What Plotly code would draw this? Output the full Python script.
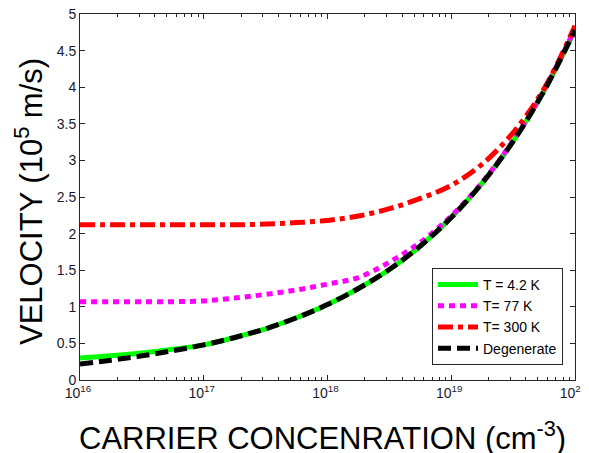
import plotly.graph_objects as go

# carrier concentration (cm^-3), quarter-decade grid
conc = [1e16, 1.778e16, 3.162e16, 5.623e16, 1e17, 1.778e17, 3.162e17, 5.623e17,
        1e18, 1.778e18, 3.162e18, 5.623e18, 1e19, 1.778e19, 3.162e19, 5.623e19, 1e20]

# velocity (10^5 m/s)
v_4k = [0.30, 0.33, 0.37, 0.42, 0.48, 0.58, 0.70, 0.85, 1.03, 1.25, 1.51, 1.83, 2.22, 2.69, 3.26, 3.95, 4.78]
v_77k = [1.07, 1.07, 1.07, 1.07, 1.08, 1.12, 1.17, 1.23, 1.31, 1.40, 1.61, 1.88, 2.24, 2.70, 3.27, 3.96, 4.80]
v_300k = [2.12, 2.12, 2.12, 2.12, 2.12, 2.12, 2.13, 2.15, 2.18, 2.24, 2.34, 2.48, 2.66, 2.95, 3.38, 3.98, 4.84]
v_deg = [0.22, 0.27, 0.33, 0.40, 0.48, 0.58, 0.70, 0.85, 1.03, 1.25, 1.51, 1.83, 2.22, 2.69, 3.26, 3.95, 4.78]

x_tickvals = [1e16, 1e17, 1e18, 1e19, 1e20]
x_ticktext = ["10<sup>16</sup>", "10<sup>17</sup>", "10<sup>18</sup>", "10<sup>19</sup>", "10<sup>20</sup>"]
x_minorvals = [float(m) * 10.0 ** e for e in (16, 17, 18, 19) for m in range(2, 10)]
y_tickvals = [0, 0.5, 1, 1.5, 2, 2.5, 3, 3.5, 4, 4.5, 5]
y_ticktext = ["0", "0.5", "1", "1.5", "2", "2.5", "3", "3.5", "4", "4.5", "5"]

x_title = "CARRIER CONCENRATION (cm<sup>-3</sup>)"
y_title = "VELOCITY (10<sup>5</sup> m/s)"

FONT = "Liberation Sans, Arial"
OFF = 8                      # default page body margin
W, H = 589 - OFF, 453 - OFF  # figure size so that it fits the window
# plot area in window pixels: left 80, right 575, top 14, bottom 380
L = 80 - OFF
R = W - (575 - OFF)
T = 14 - OFF
B = H - (380 - OFF)
PW, PH = W - L - R, H - T - B


def px(xp):
    return (xp - OFF - L) / PW


def py(yp):
    return ((H - B) - (yp - OFF)) / PH


fig = go.Figure()
fig.add_trace(go.Scatter(x=conc, y=v_4k, mode="lines", name="T = 4.2 K",
                         line=dict(color="#00ff00", width=5, shape="spline")))
fig.add_trace(go.Scatter(x=conc, y=v_77k, mode="lines", name="T= 77 K",
                         line=dict(color="#ff00ff", width=5, dash="6px,5px", shape="spline")))
fig.add_trace(go.Scatter(x=conc, y=v_300k, mode="lines", name="T= 300 K",
                         line=dict(color="#ff0000", width=5, dash="15px,5px,5px,5px", shape="spline")))
fig.add_trace(go.Scatter(x=conc, y=v_deg, mode="lines", name="Degenerate",
                         line=dict(color="#000000", width=5, dash="13px,6px", shape="spline")))

axis_common = dict(showline=True, linecolor="#262626", linewidth=1, mirror="allticks",
                   ticks="inside", ticklen=5, tickcolor="#262626", showgrid=False, zeroline=False,
                   automargin=False, ticklabeloverflow="allow",
                   tickfont=dict(family=FONT, size=14, color="#1a1a2e"))

fig.update_xaxes(type="log", range=[16, 20], tickmode="array", tickvals=x_tickvals, ticktext=x_ticktext,
                 ticklabelshift=-2,
                 minor=dict(ticks="inside", ticklen=3, tickcolor="#262626", showgrid=False,
                            tickmode="array", tickvals=x_minorvals),
                 **axis_common)
fig.update_yaxes(range=[0, 5], tickmode="array", tickvals=y_tickvals, ticktext=y_ticktext,
                 **axis_common)

# axis titles placed as text annotations (window pixel positions converted to paper units)
fig.add_annotation(text=x_title, xref="paper", yref="paper",
                   x=px(322), y=py(436), xanchor="center", yanchor="middle",
                   showarrow=False, font=dict(family=FONT, size=31, color="black"))
fig.add_annotation(text=y_title, xref="paper", yref="paper", textangle=-90,
                   x=px(29), y=py(202), xanchor="center", yanchor="middle",
                   showarrow=False, font=dict(family=FONT, size=31, color="black"))

fig.update_layout(
    width=W, height=H,
    margin=dict(l=L, r=R, t=T, b=B),
    plot_bgcolor="white", paper_bgcolor="white",
    legend=dict(x=px(563), y=py(365), xanchor="right", yanchor="bottom",
                bordercolor="#262626", borderwidth=1, bgcolor="white",
                font=dict(family=FONT, size=14, color="black"),
                tracegroupgap=0, itemwidth=40),
)

fig.write_html("out.html")
